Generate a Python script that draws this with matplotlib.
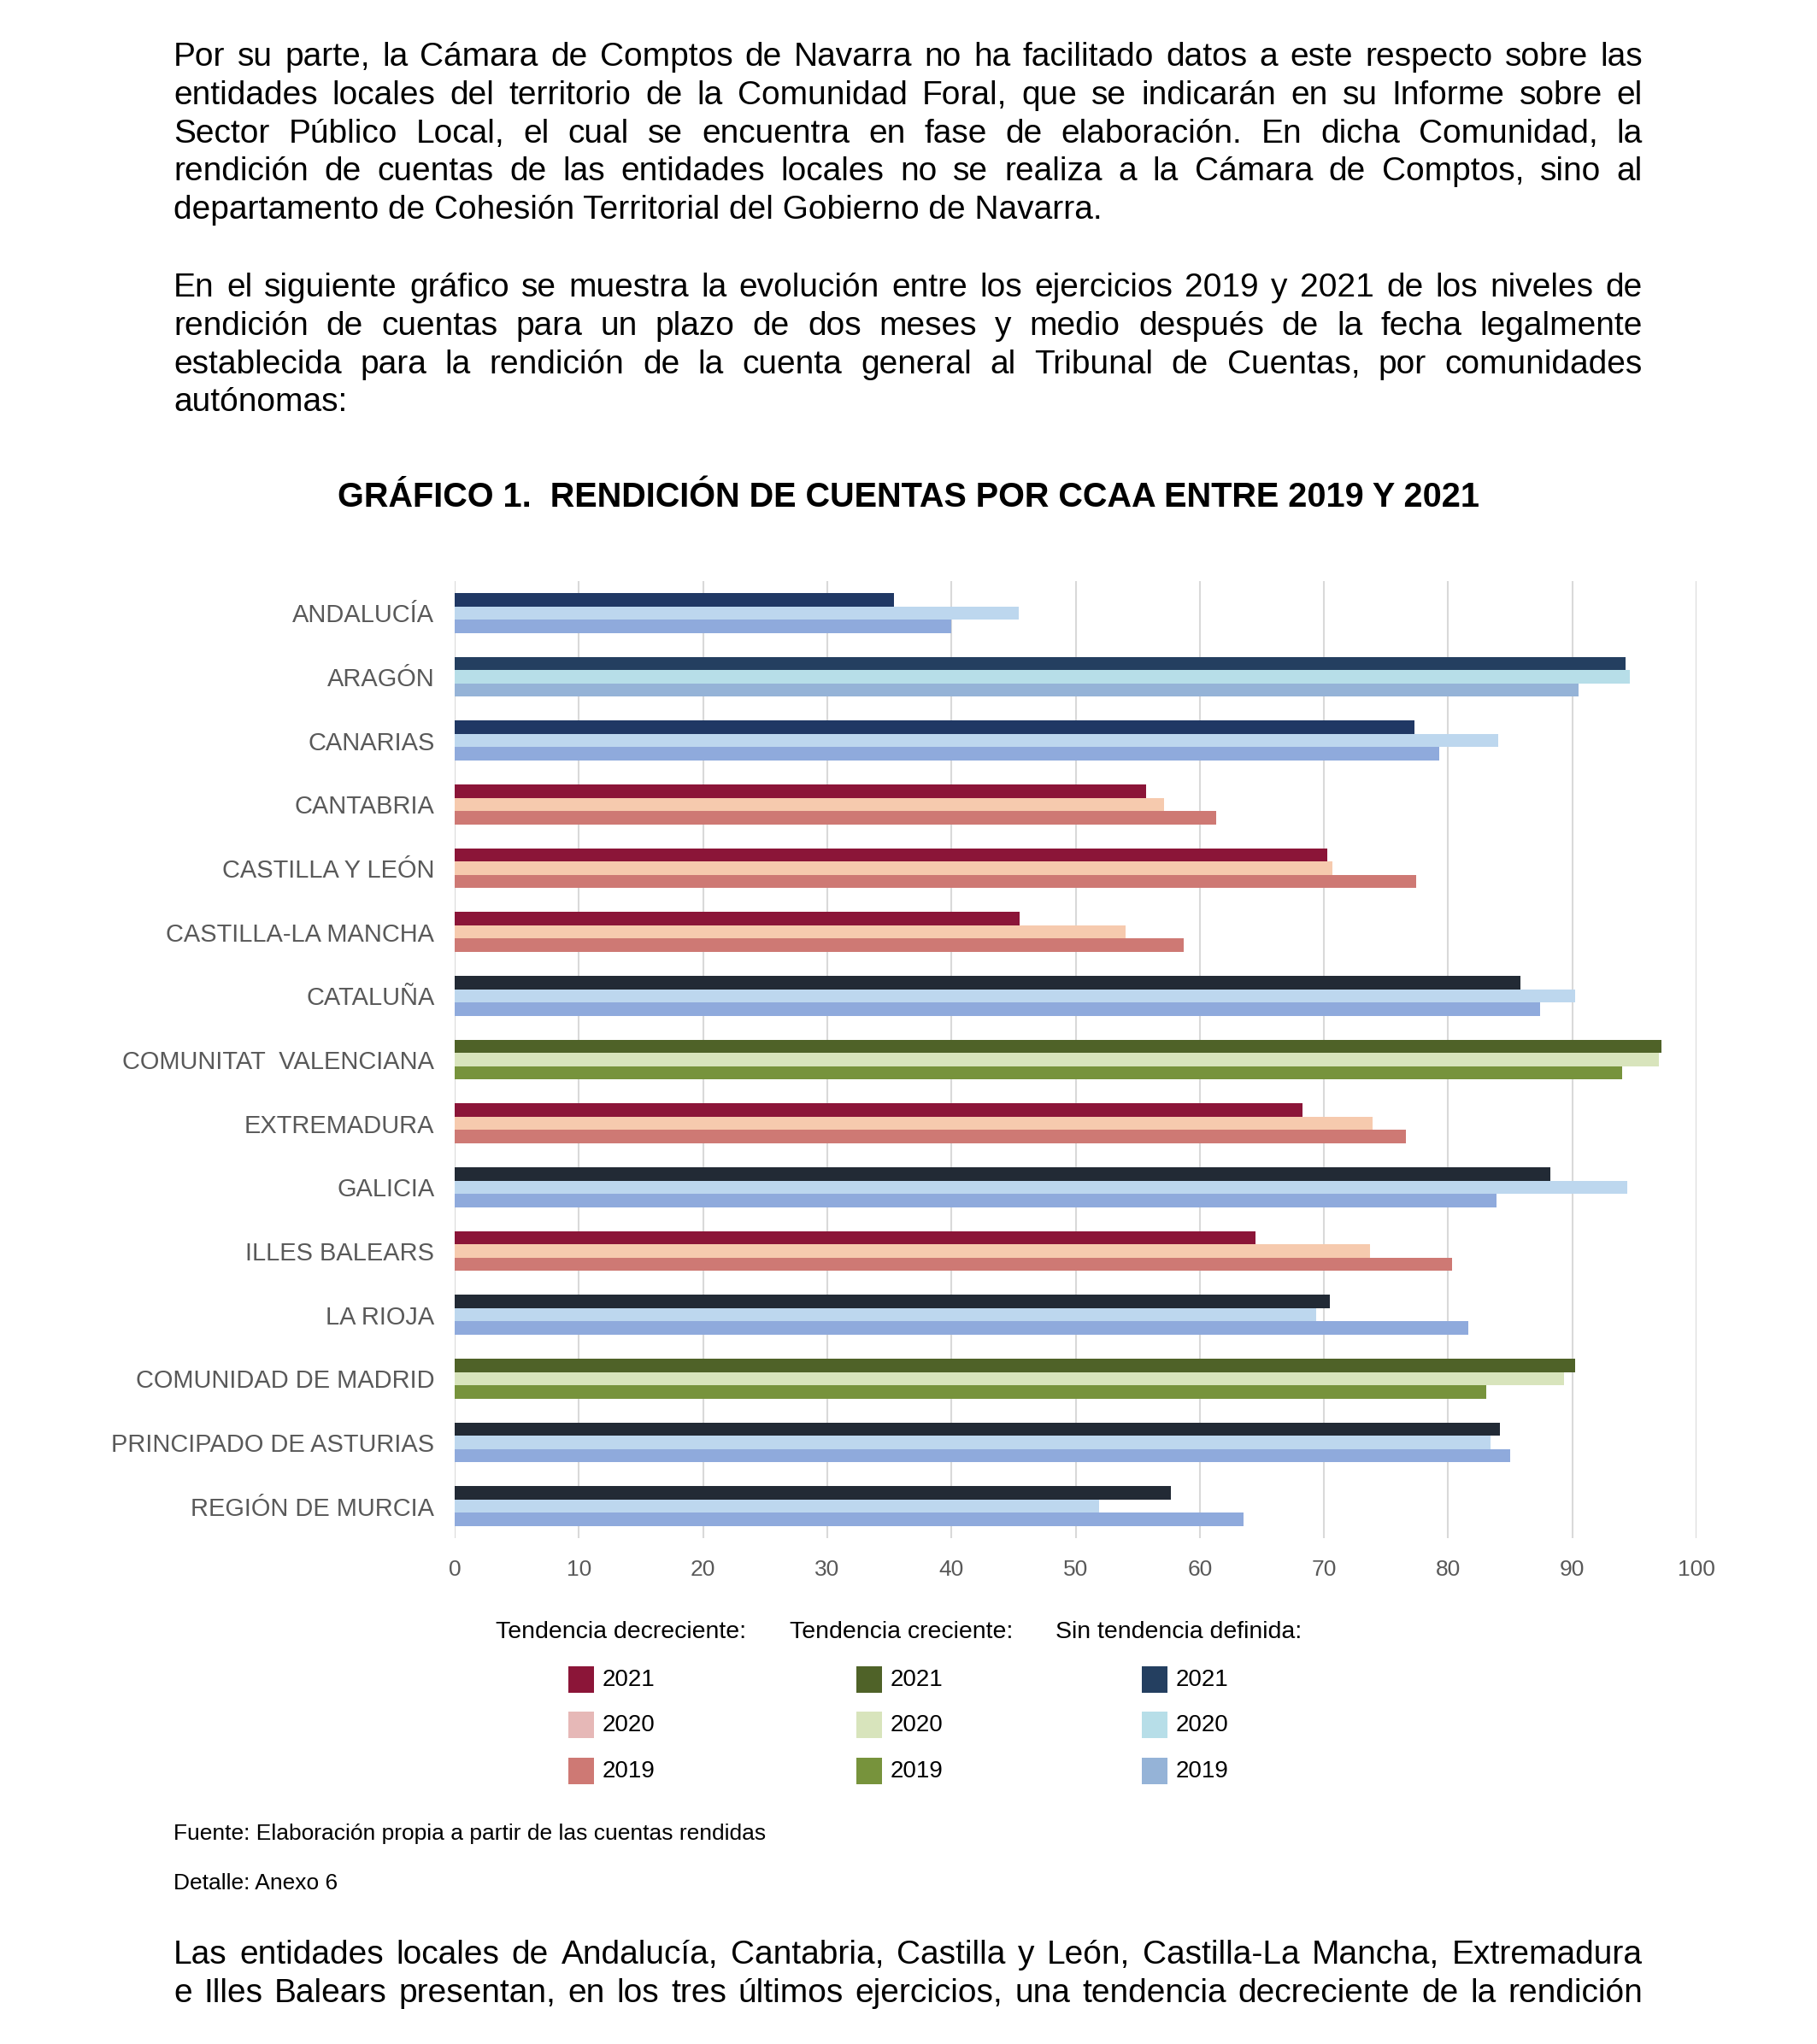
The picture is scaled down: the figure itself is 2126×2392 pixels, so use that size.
import matplotlib
matplotlib.use('Agg')
import matplotlib.pyplot as plt
from matplotlib.patches import Rectangle
from matplotlib import font_manager as fm

# Datos del gráfico (porcentaje de rendición de cuentas)
regiones = ['ANDALUCÍA', 'ARAGÓN', 'CANARIAS', 'CANTABRIA', 'CASTILLA Y LEÓN',
            'CASTILLA-LA MANCHA', 'CATALUÑA', 'COMUNITAT  VALENCIANA', 'EXTREMADURA',
            'GALICIA', 'ILLES BALEARS', 'LA RIOJA', 'COMUNIDAD DE MADRID',
            'PRINCIPADO DE ASTURIAS', 'REGIÓN DE MURCIA']
v2021 = [35.4, 94.3, 77.3, 55.7, 70.3, 45.5, 85.8, 97.2, 68.3, 88.2, 64.5, 70.5, 90.2, 84.2, 57.7]
v2020 = [45.4, 94.6, 84.0, 57.1, 70.7, 54.0, 90.2, 97.0, 73.9, 94.4, 73.7, 69.4, 89.3, 83.4, 51.9]
v2019 = [40.0, 90.5, 79.3, 61.3, 77.4, 58.7, 87.4, 94.0, 76.6, 83.9, 80.3, 81.6, 83.1, 85.0, 63.5]
tendencia = ['azul', 'azul2', 'azul', 'dec', 'dec', 'dec', 'gris', 'inc', 'dec',
             'gris', 'dec', 'gris', 'inc', 'gris', 'gris']

anios = ['2021', '2020', '2019']
leyenda_titulos = ['Tendencia decreciente:', 'Tendencia creciente:', 'Sin tendencia definida:']

# colores (2021, 2020, 2019)
paleta = {
    'dec': ('#8B1538', '#F6CAAE', '#CE7974'),
    'inc': ('#4F6228', '#D8E4BC', '#77933C'),
    'azul': ('#203864', '#BDD7EE', '#8FAADC'),
    'azul2': ('#243F60', '#B7DEE8', '#95B3D7'),
    'gris': ('#222A35', '#BDD7EE', '#8FAADC'),
}
paleta_leyenda = [('#8B1538', '#E6B8B7', '#CE7974'),
                  ('#4F6228', '#D8E4BC', '#77933C'),
                  ('#243F60', '#B7DEE8', '#95B3D7')]

nombres = {f.name for f in fm.fontManager.ttflist}
fuente = 'Liberation Sans' if 'Liberation Sans' in nombres else 'DejaVu Sans'
fuente_narrow = 'Liberation Sans Narrow' if 'Liberation Sans Narrow' in nombres else fuente
plt.rcParams['font.family'] = [fuente, 'DejaVu Sans']

W, H = 2126, 2392
fig = plt.figure(figsize=(W / 100, H / 100), dpi=100)
renderer = fig.canvas.get_renderer()


def fx(px):
    return px / W


def fy(py):
    return 1 - py / H


X0, X1 = 203, 1922


def linea(texto, y, justificar=True, size=28):
    if not justificar:
        fig.text(fx(X0), fy(y), texto, fontsize=size, va='center', ha='left')
        return
    palabras = texto.split(' ')
    objs = [fig.text(0, fy(y), p, fontsize=size, va='center', ha='left') for p in palabras]
    anchos = [o.get_window_extent(renderer).width for o in objs]
    hueco = (X1 - X0 - sum(anchos)) / (len(palabras) - 1)
    x = X0
    for o, a in zip(objs, anchos):
        o.set_x(fx(x))
        x += a + hueco


parrafo1 = ["Por su parte, la Cámara de Comptos de Navarra no ha facilitado datos a este respecto sobre las",
            "entidades locales del territorio de la Comunidad Foral, que se indicarán en su Informe sobre el",
            "Sector Público Local, el cual se encuentra en fase de elaboración. En dicha Comunidad, la",
            "rendición de cuentas de las entidades locales no se realiza a la Cámara de Comptos, sino al",
            "departamento de Cohesión Territorial del Gobierno de Navarra."]
parrafo2 = ["En el siguiente gráfico se muestra la evolución entre los ejercicios 2019 y 2021 de los niveles de",
            "rendición de cuentas para un plazo de dos meses y medio después de la fecha legalmente",
            "establecida para la rendición de la cuenta general al Tribunal de Cuentas, por comunidades",
            "autónomas:"]
parrafo3 = ["Las entidades locales de Andalucía, Cantabria, Castilla y León, Castilla-La Mancha, Extremadura",
            "e Illes Balears presentan, en los tres últimos ejercicios, una tendencia decreciente de la rendición"]

for i, t in enumerate(parrafo1):
    linea(t, 67 + i * 44.8, justificar=(i < len(parrafo1) - 1))
for i, t in enumerate(parrafo2):
    linea(t, 337 + i * 44.8, justificar=(i < len(parrafo2) - 1))
for i, t in enumerate(parrafo3):
    linea(t, 2288 + i * 44.8, justificar=True)

fig.text(fx(1063), fy(582), 'GRÁFICO 1.  RENDICIÓN DE CUENTAS POR CCAA ENTRE 2019 Y 2021',
         fontsize=28.5, fontweight='bold', ha='center', va='center')

# Gráfico de barras
ax = fig.add_axes([fx(532), fy(1800), fx(1985) - fx(532), (1800 - 680) / H])
h = 0.207
for i, reg in enumerate(regiones):
    c = paleta[tendencia[i]]
    for k, vals in enumerate([v2021, v2020, v2019]):
        ax.barh(i + (k - 1) * h, vals[i], height=h, color=c[k], edgecolor='none')

ax.set_xlim(0, 100)
ax.set_ylim(len(regiones) - 0.5, -0.5)
ax.set_xticks(range(0, 101, 10))
ax.set_yticks(range(len(regiones)))
ax.set_yticklabels(regiones)
ax.tick_params(axis='x', length=0, pad=18, labelsize=19, colors='#595959')
ax.tick_params(axis='y', length=0, pad=17, labelsize=20.9, colors='#595959')
ax.grid(axis='x', color='#D9D9D9', linewidth=1.5)
ax.set_axisbelow(True)
for s in ax.spines.values():
    s.set_visible(False)

# Leyenda
cab_x = [580, 924, 1235]
patch_x = [665, 1002, 1336]
fila_y = [1966, 2019, 2073]
for j in range(3):
    fig.text(fx(cab_x[j]), fy(1910), leyenda_titulos[j], fontsize=20.5, va='center', ha='left')
    for k in range(3):
        fig.add_artist(Rectangle((fx(patch_x[j]), fy(fila_y[k] + 15)), fx(30), 31 / H,
                                 facecolor=paleta_leyenda[j][k], edgecolor='none',
                                 transform=fig.transFigure))
        fig.text(fx(patch_x[j] + 40), fy(fila_y[k]), anios[k], fontsize=20, va='center', ha='left')

fig.text(fx(X0), fy(2146), 'Fuente: Elaboración propia a partir de las cuentas rendidas',
         fontsize=19, va='center', ha='left', family=fuente_narrow)
fig.text(fx(X0), fy(2204), 'Detalle: Anexo 6', fontsize=19, va='center', ha='left', family=fuente_narrow)

fig.savefig('out.png', dpi=100)
